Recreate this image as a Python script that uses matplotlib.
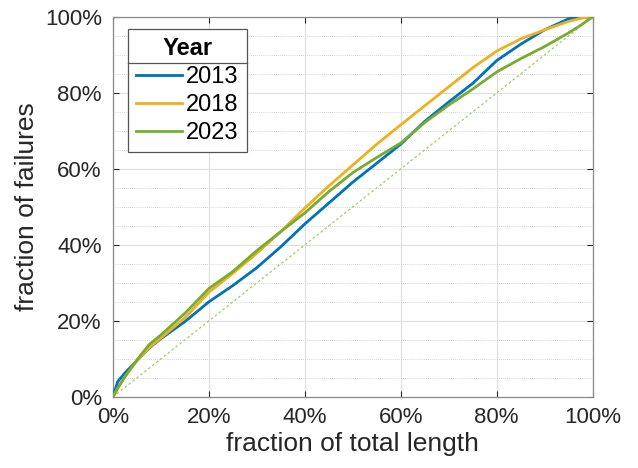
import matplotlib
matplotlib.use("Agg")
import matplotlib.pyplot as plt
from matplotlib.lines import Line2D
from matplotlib.ticker import MultipleLocator, PercentFormatter

plt.rcParams["font.family"] = ["Liberation Sans", "DejaVu Sans"]

# fraction of total length (%)
length_pct = [0, 1, 2.5, 5, 7.5, 10, 15, 20, 25, 30, 35, 40, 45, 50,
              55, 60, 65, 70, 75, 80, 85, 90, 95, 97.5, 100]

# fraction of failures (%) per year
fail_2013 = [0, 4, 6.3, 9.5, 12.8, 15.3, 19.8, 25, 29.3, 34, 39.5, 45.5, 51, 56.5,
             61.5, 66.5, 72.5, 77.6, 82.5, 88.5, 92.8, 96.6, 99.5, 100, 100]
fail_2018 = [0, 2.3, 5.3, 9.5, 12.9, 15.5, 20.8, 27.5, 32.5, 37.8, 43.5, 49.7, 55.5, 61,
             66.5, 71.6, 76.6, 81.6, 86.6, 91, 94.2, 96.6, 98.8, 99.6, 100]
fail_2023 = [0, 2.3, 5.3, 9.7, 13.7, 16.3, 22, 28.5, 33, 38.5, 43.5, 48.4, 54, 59,
             63, 66.8, 72.2, 76.8, 81, 85.5, 89, 92.2, 95.8, 97.8, 100]

years = ["2013", "2018", "2023"]
colors = ["#0072BD", "#EDB120", "#77AC30"]

fig = plt.figure(figsize=(6.38, 4.68), dpi=100)
ax = fig.add_axes([0.177, 0.152, 0.752, 0.812])

# reference diagonal
ax.plot([0, 100], [0, 100], color="#9ccc6a", lw=0.9, ls=(0, (2, 2)), zorder=2)

for y, c, lab in zip([fail_2013, fail_2018, fail_2023], colors, years):
    ax.plot(length_pct, y, color=c, lw=2.0, label=lab, zorder=3)

ax.set_xlim(0, 100)
ax.set_ylim(0, 100)
ax.xaxis.set_major_locator(MultipleLocator(20))
ax.yaxis.set_major_locator(MultipleLocator(20))
ax.yaxis.set_minor_locator(MultipleLocator(5))
ax.xaxis.set_major_formatter(PercentFormatter(decimals=0))
ax.yaxis.set_major_formatter(PercentFormatter(decimals=0))

ax.grid(which="major", color="#dedede", lw=0.8)
ax.grid(which="minor", axis="y", color="#c8c8c8", lw=0.6, ls=(0, (1, 1.5)))
ax.set_axisbelow(True)

ax.tick_params(which="major", direction="in", length=4, width=0.8, top=True, right=True,
               labelsize=16, colors="#262626")
ax.tick_params(axis="y", pad=8)
ax.tick_params(axis="x", pad=7)
ax.tick_params(which="minor", length=0)
for s in ax.spines.values():
    s.set_color("#8a8a8a")
    s.set_linewidth(0.9)

ax.set_xlabel("fraction of total length", fontsize=19, color="#262626", labelpad=3)
ax.set_ylabel("fraction of failures", fontsize=19, color="#262626", labelpad=4)

leg = ax.legend(title="Year", loc="upper left", bbox_to_anchor=(0.031, 0.968),
                fontsize=17, title_fontproperties={"weight": "bold", "size": 17},
                frameon=True, fancybox=False, edgecolor="#555555", framealpha=1,
                handlelength=1.95, handletextpad=0.17, borderpad=0.35, labelspacing=0.25,
                borderaxespad=0)
leg.get_frame().set_linewidth(0.9)

# separator line under the legend title
fig.canvas.draw()
r = fig.canvas.get_renderer()
fb = leg.get_frame().get_window_extent(r)
tb = leg.get_title().get_window_extent(r)
t0 = leg.get_texts()[0].get_window_extent(r)
inv = fig.transFigure.inverted()
x0, _ = inv.transform((fb.x0, 0))
x1, _ = inv.transform((fb.x1, 0))
_, ysep = inv.transform((0, (tb.y0 + t0.y1) / 2))
fig.add_artist(Line2D([x0, x1], [ysep, ysep], color="#555555", lw=0.9,
                      transform=fig.transFigure, zorder=10))

fig.savefig("out.png", dpi=100)
